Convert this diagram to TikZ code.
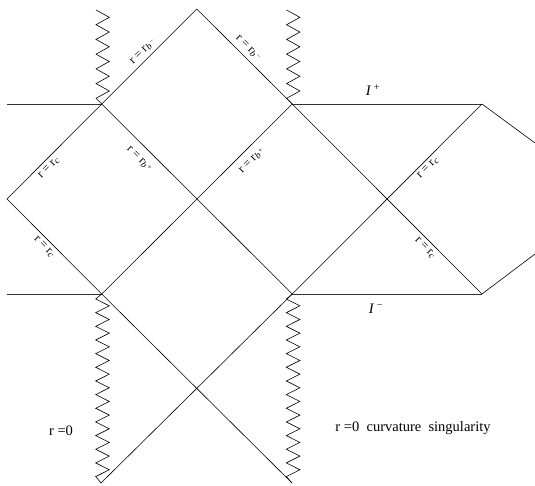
\documentclass[tikz,border=0pt]{standalone}
\usepackage{fontspec}
\setmainfont{Liberation Serif}
\newcommand{\subb}[1]{\raisebox{-0.35ex}{\fontsize{9.5}{10}\selectfont\textit{b}\,\raisebox{0.7ex}{\fontsize{7}{8}\selectfont #1}}}
\newcommand{\subc}{\raisebox{-0.35ex}{\fontsize{9.5}{10}\selectfont\textit{c}}}
\begin{document}
\begin{tikzpicture}[x=1pt,y=-1pt,
  ln/.style={line width=0.6pt,black},
  hz/.style={line width=0.9pt,black!80},
  zz/.style={line width=0.6pt,black,line join=miter},
  lab/.style={font=\fontsize{12}{13}\selectfont,inner sep=0pt},
  big/.style={font=\fontsize{14.5}{16}\selectfont,inner sep=0pt}]
\useasboundingbox (0,0) rectangle (535,486);
% key points
\coordinate (A) at (196.7,9);
\coordinate (L1) at (101.7,104);
\coordinate (R1) at (292.3,104);
\coordinate (L2) at (101.7,294);
\coordinate (R2) at (292.3,294);
\coordinate (L3) at (101,483);
\coordinate (R3) at (292,483);
\coordinate (W) at (7,199);
\coordinate (WT) at (7,104);
\coordinate (WB) at (7,294);
\coordinate (P1) at (482,104);
\coordinate (P2) at (482,294);
\coordinate (Q1) at (535,143);
\coordinate (Q2) at (535,254);
% horizontals
\draw[hz] (WT) -- (L1);
\draw[hz] (WB) -- (L2);
\draw[hz] (R1) -- (P1);
\draw[hz] (R2) -- (P2);
% diagonals
\draw[ln] (L1) -- (A) -- (R1);
\draw[ln] (L1) -- (W) -- (L2);
\draw[ln] (L1) -- (R2);
\draw[ln] (R1) -- (L2);
\draw[ln] (R1) -- (P2);
\draw[ln] (P1) -- (R2);
\draw[ln] (P1) -- (Q1);
\draw[ln] (P2) -- (Q2);
\draw[ln] (L2) -- (R3);
\draw[ln] (R2) -- (L3);
% zigzags
\foreach \dx/\top/\bot in {0/L1/L3, 190.6/R1/R3} {
  % top zigzag
  \draw[zz] (96+\dx,10)
    \foreach \k in {1,...,12} {
      -- ({(mod(\k,2)==1 ? 109.3 : 96)+\dx}, {10+\k*7.36})
    } -- (\top);
  % bottom zigzag
  \draw[zz] ({101.7+\dx},294)
    \foreach \k in {0,...,26} {
      -- ({(mod(\k,2)==1 ? 109.3 : 95.7)+\dx}, {299+\k*6.83})
    } -- (\bot);
}
% labels
\node[lab,rotate=45]  (l1) at (143,52)  {r = r\subb{−}};
\node[lab,rotate=-45] (l2) at (248,48)  {r = r\subb{−}};
\node[lab,rotate=45]  (l3) at (49,168)  {r = r\subc};
\node[lab,rotate=-45] (l4) at (44,247)  {r = r\subc};
\node[lab,rotate=-45] (l5) at (139,159) {r = r\subb{+}};
\node[lab,rotate=45]  (l6) at (252,161) {r = r\subb{+}};
\node[lab,rotate=45]  (l7) at (428,168) {r = r\subc};
\node[lab,rotate=-45] (l8) at (425,248) {r = r\subc};
\node[big] (ip) at (373,90) {\textit{I}\,\textsuperscript{+}};
\node[big] (im) at (376,309) {\textit{I}\,\textsuperscript{−}};
\node[big] (r0) at (61,431) {r =0};
\node[big] (cs) at (413,428) {r =0\ \ curvature\ \ singularity};
\end{tikzpicture}
\end{document}
